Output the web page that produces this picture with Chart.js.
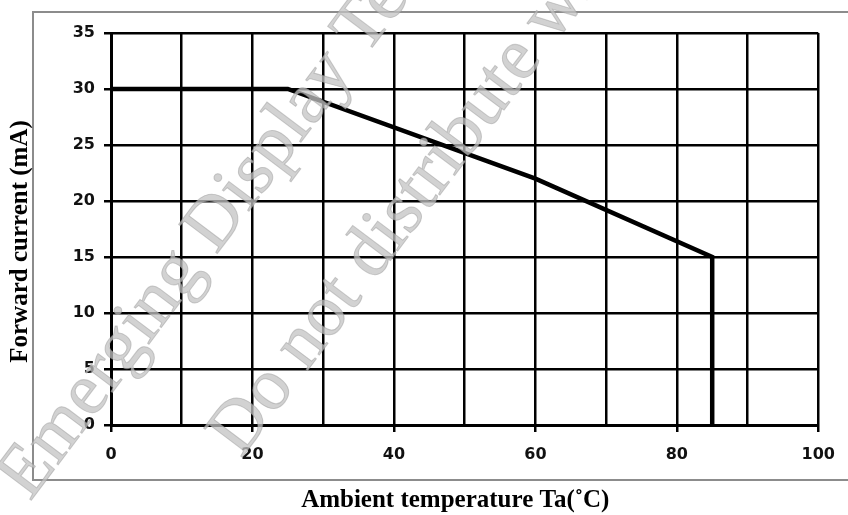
<!DOCTYPE html>
<html>
<head>
<meta charset="utf-8">
<script src="https://cdn.jsdelivr.net/npm/chart.js@4"></script>
<style>
  html, body { margin: 0; padding: 0; background: #fff; }
  #wrap { width: 848px; height: 515px; }
</style>
</head>
<body>
<div id="wrap"><canvas id="derating"></canvas></div>
<script>
// derating curve: forward current vs ambient temperature
const tempC = [0, 25, 60, 85, 85];
const currentMA = [30, 30, 22, 15, 0];
const xLabelled = [0, 20, 40, 60, 80, 100];
const watermarkLines = ["Emerging Display Technologies", "Do not distribute without permission"];

const ctx = document.getElementById("derating").getContext("2d");

// grey frame round the whole plot, like the pasted Excel chart
const framePlugin = {
  id: "frame",
  beforeDraw(chart) {
    const c = chart.ctx;
    c.save();
    c.strokeStyle = "#8c8c8c";
    c.lineWidth = 2;
    c.strokeRect(33, 12, 900, 468);
    c.restore();
  }
};

// faint diagonal watermark on top of everything
const watermarkPlugin = {
  id: "watermark",
  afterDraw(chart) {
    const c = chart.ctx;
    c.save();
    c.font = "74px 'Liberation Serif'";
    c.fillStyle = "rgba(195,195,195,0.75)";
    c.strokeStyle = "rgba(150,150,150,0.45)";
    c.lineWidth = 1;
    c.textBaseline = "alphabetic";
    const starts = [[30, 502], [241, 459]];
    watermarkLines.forEach((txt, i) => {
      c.save();
      c.translate(starts[i][0], starts[i][1]);
      c.rotate(-53 * Math.PI / 180);
      c.fillText(txt, 0, 0);
      c.strokeText(txt, 0, 0);
      c.restore();
    });
    c.restore();
  }
};

const tickFont = { family: "'DejaVu Sans'", size: 16, weight: "bold" };
const titleFont = { family: "'Liberation Serif'", size: 25, weight: "bold", lineHeight: 1 };

new Chart(ctx, {
  type: "scatter",
  data: {
    datasets: [{
      data: tempC.map((t, i) => ({ x: t, y: currentMA[i] })),
      showLine: true,
      borderColor: "#000",
      borderWidth: 4.5,
      pointRadius: 0,
      tension: 0
    }]
  },
  options: {
    responsive: true,
    maintainAspectRatio: false,
    animation: false,
    layout: { padding: { top: 33, right: 29, left: 0, bottom: 0 } },
    plugins: { legend: { display: false }, tooltip: { enabled: false } },
    scales: {
      x: {
        type: "linear",
        min: 0,
        max: 100,
        afterFit(scale) { scale.height = 90; },
        ticks: {
          stepSize: 10,
          autoSkip: false,
          maxRotation: 0,
          padding: 13,
          color: "#111",
          font: tickFont,
          callback: v => (xLabelled.includes(v) ? v : "")
        },
        grid: {
          color: "#000",
          lineWidth: 2.5,
          tickLength: 7,
          tickColor: c => (xLabelled.includes(c.tick.value) ? "#000" : "rgba(0,0,0,0)")
        },
        border: { color: "#000", width: 3 },
        title: {
          display: true,
          text: "Ambient temperature Ta(˚C)   ",
          color: "#000",
          font: titleFont,
          padding: { top: 0, bottom: 2 }
        }
      },
      y: {
        min: 0,
        max: 35,
        afterFit(scale) { scale.width = 111; },
        ticks: {
          stepSize: 5,
          padding: 9,
          color: "#111",
          font: tickFont
        },
        grid: { color: "#000", lineWidth: 2.5, tickLength: 7, tickColor: "#000" },
        border: { color: "#000", width: 3 },
        title: {
          display: true,
          text: "Forward current (mA)    ",
          color: "#000",
          font: titleFont,
          padding: { top: 8, bottom: 0 }
        }
      }
    }
  },
  plugins: [framePlugin, watermarkPlugin]
});
</script>
</body>
</html>
